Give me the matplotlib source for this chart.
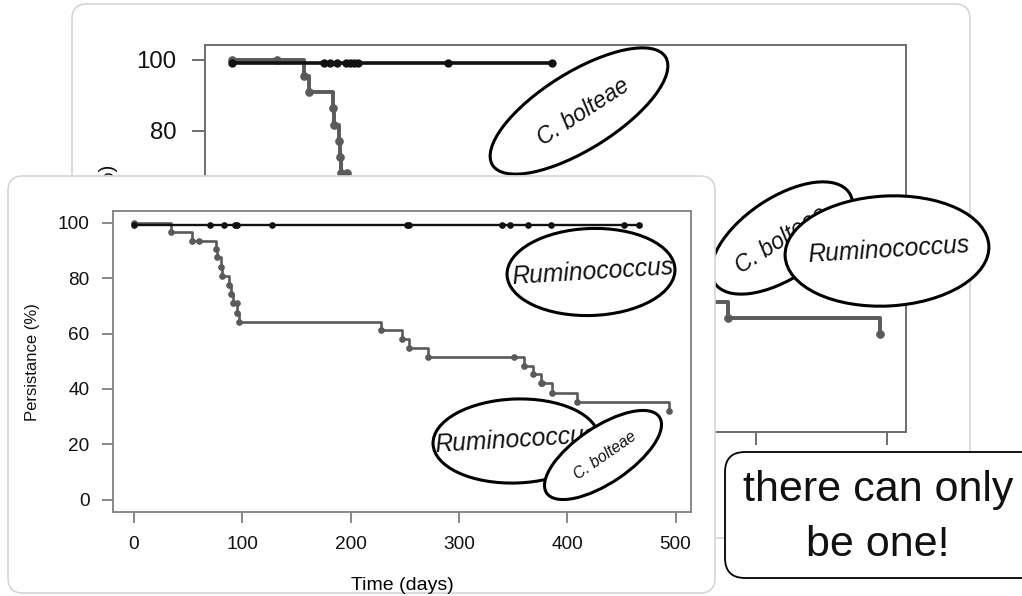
import numpy as np
import matplotlib
matplotlib.use("Agg")
import matplotlib.pyplot as plt
from matplotlib.patches import Ellipse, FancyBboxPatch

plt.rcParams["font.family"] = ["Liberation Sans", "DejaVu Sans"]

W, H = 1022, 596

# --- back panel (partly hidden) ---
back_black_pct = 99.2
back_black_censor = [0, 70, 75, 80, 87, 90, 93, 96, 165, 244]
back_grey_days = [0, 55, 59, 77, 77.5, 82, 82.5, 83, 89, 96, 140, 180, 230, 260, 300, 340, 379, 495]
back_grey_pct = [100, 95.5, 90.9, 86.4, 81.8, 77.3, 72.7, 68.2, 63.6, 59.1, 54.5, 50.0, 45.5, 40.9, 36.4, 31.8, 27.3, 22.7]
back_grey_censor_days = [34, 88]
back_grey_censor_pct = [100, 68.2]

# --- front panel ---
front_black_pct = 99.4
front_black_censor = [0, 70, 83, 93, 95, 127, 252, 254, 340, 347, 364, 385, 452, 466]
front_grey_days = [0, 34, 54, 76, 77, 80, 81, 88, 90, 91, 95.5, 97, 228, 247, 254, 271, 360, 368, 376, 386, 409, 494]
front_grey_pct = [100, 96.8, 93.6, 90.4, 87.5, 83.9, 80.7, 77.4, 74.2, 70.9, 67.3, 64.3, 61.2, 58.0, 54.7, 51.4, 48.2, 45.3, 42.1, 38.4, 35.2, 32.0]
front_grey_censor_days = [60, 95, 351, 377]
front_grey_censor_pct = [93.6, 70.9, 51.4, 42.1]

x_ticks = [0, 100, 200, 300, 400, 500]
y_ticks = [0, 20, 40, 60, 80, 100]

GREY = "#5a5a5a"
BLACK = "#111111"

fig = plt.figure(figsize=(W / 100, H / 100), dpi=100)


def overlay(z):
    # full-figure axes in pixel units, y pointing down
    ax = fig.add_axes([0, 0, 1, 1], zorder=z)
    ax.set_xlim(0, W)
    ax.set_ylim(H, 0)
    ax.axis("off")
    return ax


def card(ax, x0, y0, x1, y1, ec, lw, r, z=1):
    ax.add_patch(FancyBboxPatch((x0, y0), x1 - x0, y1 - y0,
                                boxstyle=f"round,pad=0,rounding_size={r}",
                                fc="white", ec=ec, lw=lw, zorder=z))


def label_ellipse(ax, cx, cy, a, b, ang, text, fs, rot, z, tx=None, ty=None):
    ax.add_patch(Ellipse((cx, cy), 2 * a, 2 * b, angle=-ang, fc="white",
                         ec="black", lw=2.2, zorder=z))
    ax.text(cx if tx is None else tx, cy if ty is None else ty, text,
            fontsize=fs, fontstyle="italic", rotation=rot, ha="center",
            va="center", rotation_mode="anchor", zorder=z + 0.5, color=BLACK)


def style_axes(ax, spine_c, spine_lw, tick_len, pad, fs):
    for s in ax.spines.values():
        s.set_color(spine_c)
        s.set_linewidth(spine_lw)
    ax.set_facecolor("none")
    ax.set_xticks(x_ticks)
    ax.set_yticks(y_ticks)
    ax.tick_params(direction="out", length=tick_len, width=spine_lw,
                   color=spine_c, pad=pad, labelsize=fs, labelcolor=BLACK)


# back card
ov0 = overlay(0)
card(ov0, 72, 4, 970, 538, "#d6d6d6", 1.2, 15)

# back axes (its x labels sit under the front card / callout)
axb = fig.add_axes([205 / W, 1 - 432 / H, 701 / W, 387 / H], zorder=1)
axb.set_xlim(-20.6, 514.5)
axb.set_ylim(-4.8, 104.2)
style_axes(axb, "#6e6e6e", 1.4, 9.5, 11, 17.3)
axb.set_xticklabels([])
axb.step(back_grey_days, back_grey_pct, where="post", color=GREY, lw=2.8)
axb.plot(back_grey_days, back_grey_pct, "o", color=GREY, ms=5.2)
axb.plot(back_grey_censor_days, back_grey_censor_pct, "o", color=GREY, ms=5.2)
axb.plot([0, back_black_censor[-1]], [back_black_pct] * 2, color=BLACK, lw=2.6)
axb.plot(back_black_censor, [back_black_pct] * len(back_black_censor), "o", color=BLACK, ms=5)
axb.text(108 / W, 1 - 238 / H, "Persistance (%)", transform=fig.transFigure,
         rotation=90, ha="center", va="center", fontsize=15, color=BLACK)

# back labels + front card
ov1 = overlay(2)
label_ellipse(ov1, 579, 111, 102, 38.5, 32, "C. bolteae", 16.6, 33, 1, 583, 112)
label_ellipse(ov1, 782, 238, 81, 40, 34, "C. bolteae", 16.6, 33, 2, 781, 240)
label_ellipse(ov1, 887, 251, 102, 55, 3, "Ruminococcus", 17.7, 3.5, 3, 889, 250)
card(ov1, 8, 176, 715, 593, "#d6d6d6", 1.2, 15, z=5)

# front axes
axf = fig.add_axes([113 / W, 1 - 512 / H, 578 / W, 301 / H], zorder=3)
axf.set_xlim(-19.4, 514.3)
axf.set_ylim(-4.5, 104.3)
style_axes(axf, "#808080", 1.3, 8, 9, 13.7)
axf.step(front_grey_days, front_grey_pct, where="post", color=GREY, lw=1.9)
axf.plot(front_grey_days, front_grey_pct, "o", color=GREY, ms=3.8)
axf.plot(front_grey_censor_days, front_grey_censor_pct, "o", color=GREY, ms=3.8)
axf.plot([0, front_black_censor[-1]], [front_black_pct] * 2, color=BLACK, lw=1.7)
axf.plot(front_black_censor, [front_black_pct] * len(front_black_censor), "o", color=BLACK, ms=3.8)
axf.set_xlabel("Time (days)", fontsize=14, labelpad=17.5)
axf.text(33 / W, 1 - 362 / H, "Persistance (%)", transform=fig.transFigure,
         rotation=90, ha="center", va="center", fontsize=12, color=BLACK)

# front labels + callout
ov2 = overlay(4)
label_ellipse(ov2, 591, 272, 84, 43.5, 2, "Ruminococcus", 17.7, 3.5, 1, 593, 272)
label_ellipse(ov2, 516, 441, 83, 42, 2, "Ruminococcus", 17.7, 3.5, 2, 516, 440)
label_ellipse(ov2, 603, 455, 68, 28, 34, "C. bolteae", 11.4, 35, 3, 605, 456)

card(ov2, 725, 452, 1045, 578, "black", 1.3, 20, z=6)
ov2.text(878, 490, "there can only", fontsize=31, ha="center", va="center", zorder=7, color=BLACK)
ov2.text(878, 545, "be one!", fontsize=31, ha="center", va="center", zorder=7, color=BLACK)

fig.savefig("out.png", dpi=100)
